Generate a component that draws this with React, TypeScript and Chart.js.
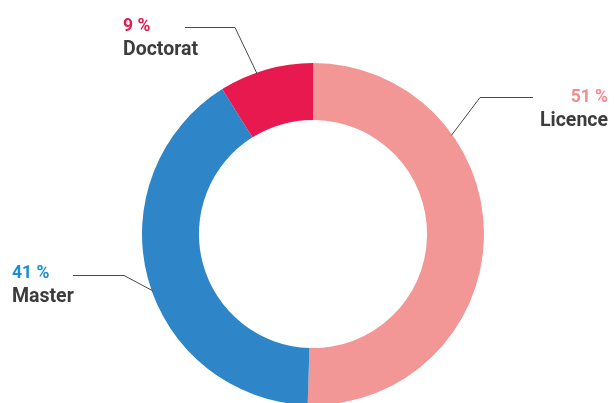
import React, { useEffect, useRef } from "react";
import { Chart, registerables } from "chart.js";

Chart.register(...registerables);

const categories = ["Licence", "Master", "Doctorat"];
const shares = [51, 41, 9];
const percentLabels = ["51 %", "41 %", "9 %"];
const sliceColors = ["#F29795", "#2E86C8", "#E8194F"];
const percentColors = ["#F28B8D", "#1B8FD6", "#E8194F"];

// label layout: fraction along arc where leader touches, elbow point, end of horizontal, text anchor
const labelLayout = [
  { frac: 0.3, elbow: [480, 97], end: [533, 97], text: [608, 102], align: "right" },
  { frac: 0.47, elbow: [124, 275], end: [73, 275], text: [12, 278], align: "left" },
  { frac: 0.4, elbow: [235, 27], end: [185, 27], text: [123, 31], align: "left" },
];

const labelPlugin = {
  id: "leaderLabels",
  afterDraw(chart: any) {
    const ctx = chart.ctx;
    const meta = chart.getDatasetMeta(0);
    meta.data.forEach((arc: any, i: number) => {
      const L = labelLayout[i];
      const { x, y, startAngle, endAngle, outerRadius } = arc.getProps(
        ["x", "y", "startAngle", "endAngle", "outerRadius"],
        true
      );
      const a = startAngle + (endAngle - startAngle) * L.frac;
      const px = x + Math.cos(a) * (outerRadius - 1);
      const py = y + Math.sin(a) * (outerRadius - 1);
      ctx.save();
      ctx.strokeStyle = "#4a4a4a";
      ctx.lineWidth = 1;
      ctx.beginPath();
      ctx.moveTo(px, py);
      ctx.lineTo(L.elbow[0], L.elbow[1] + 0.5);
      ctx.lineTo(L.end[0], L.end[1] + 0.5);
      ctx.stroke();
      ctx.textAlign = L.align as CanvasTextAlign;
      ctx.textBaseline = "alphabetic";
      ctx.fillStyle = percentColors[i];
      ctx.font = "bold 17.5px Roboto";
      ctx.fillText(percentLabels[i], L.text[0], L.text[1]);
      ctx.fillStyle = "#3c3c3c";
      ctx.font = "bold 19.5px Roboto";
      ctx.fillText(categories[i], L.text[0], L.text[1] + 24);
      ctx.restore();
    });
  },
};

export default function App() {
  const ref = useRef<HTMLCanvasElement>(null);
  useEffect(() => {
    document.body.style.margin = "0";
    const chart = new Chart(ref.current!, {
      type: "doughnut",
      data: {
        labels: categories,
        datasets: [
          {
            data: shares,
            backgroundColor: sliceColors,
            borderWidth: 0,
          },
        ],
      },
      options: {
        responsive: false,
        animation: false,
        radius: 171,
        cutout: "66.7%",
        layout: { padding: { left: 12, right: 0, top: 65, bottom: 0 } },
        plugins: { legend: { display: false }, tooltip: { enabled: false } },
      } as any,
      plugins: [labelPlugin],
    });
    return () => chart.destroy();
  }, []);
  return (
    <div style={{ width: 614, height: 403 }}>
      <canvas ref={ref} width={614} height={403} />
    </div>
  );
}
